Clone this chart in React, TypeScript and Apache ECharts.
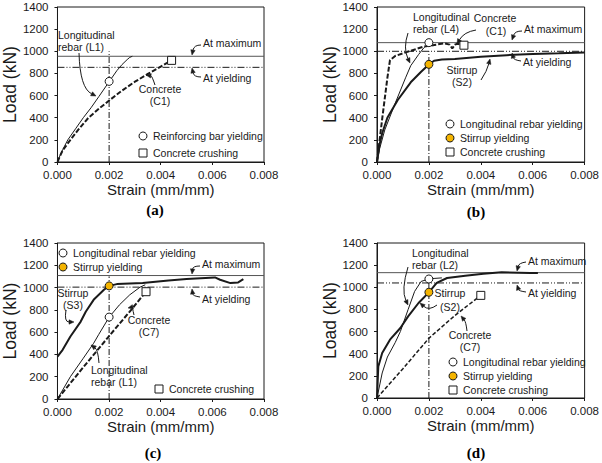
import React, { useEffect, useRef } from "react";
import * as echarts from "echarts";

type P = [number, number];

// ---------- shared axes ----------
const strainMax = 0.008;
const strainStep = 0.002;
const loadMax = 1400;
const loadStep = 200;

// ---------- panel (a) ----------
const aRebarL1: P[] = [[0,0],[0.0001,60],[0.0002,110],[0.0004,200],[0.0007,300],[0.001,400],[0.0013,490],[0.0016,590],[0.002,725],[0.0023,825],[0.0025,880],[0.0027,925],[0.0028,945],[0.0029,955]];
const aConcreteC1: P[] = [[0,0],[0.0001,55],[0.0002,105],[0.0005,200],[0.0008,290],[0.0012,400],[0.0016,480],[0.002,555],[0.0025,645],[0.003,725],[0.0035,795],[0.004,862],[0.0044,915]];
const aMaximum = 955;
const aYielding = 855;
const aVerticalTop = 1000;
const aRebarYield: P[] = [[0.002, 728]];
const aConcreteCrush: P[] = [[0.00442, 918]];

// ---------- panel (b) ----------
const bRebarL4: P[] = [[0,0],[0.0001,120],[0.0003,290],[0.0007,530],[0.0011,760],[0.0013,870],[0.0016,970],[0.0018,1030],[0.002,1075]];
const bStirrupS2: P[] = [[0,0],[0.0001,160],[0.0002,260],[0.0004,400],[0.0008,560],[0.0013,720],[0.0017,815],[0.002,880],[0.0022,915],[0.0025,925],[0.003,930],[0.004,950],[0.005,965],[0.006,975],[0.007,982],[0.008,990]];
const bConcreteC1: P[] = [[0,0],[0.0002,390],[0.0004,760],[0.0005,920],[0.0007,957],[0.0012,997],[0.0018,1042],[0.0026,1072],[0.0028,1060],[0.0029,1025],[0.003,1060],[0.0031,1068],[0.0033,1058]];
const bMaximum = 1078;
const bYielding = 1000;
const bVerticalTop = 1000;
const bRebarYield: P[] = [[0.002, 1078]];
const bStirrupYield: P[] = [[0.002, 882]];
const bConcreteCrush: P[] = [[0.00335, 1055]];

// ---------- panel (c) ----------
const cStirrupS3: P[] = [[0,380],[0.0002,441],[0.0005,561],[0.0009,695],[0.0011,785],[0.0014,890],[0.0016,935],[0.0018,980],[0.002,1015],[0.0023,1031],[0.0033,1040],[0.0043,1064],[0.005,1076],[0.0061,1091],[0.0063,1070],[0.0067,1040],[0.007,1046],[0.0072,1076]];
const cRebarL1: P[] = [[0,0],[0.0005,200],[0.001,366],[0.0014,500],[0.0016,580],[0.002,734],[0.0024,845],[0.0028,935],[0.0032,1004],[0.0034,1025]];
const cConcreteC7: P[] = [[0,0],[0.001,285],[0.002,565],[0.0028,785],[0.00343,963]];
const cMaximum = 1108;
const cYielding = 1004;
const cVerticalTop = 1100;
const cRebarYield: P[] = [[0.002, 735]];
const cStirrupYield: P[] = [[0.002, 1015]];
const cConcreteCrush: P[] = [[0.00343, 963]];

// ---------- panel (d) ----------
const dRebarL2: P[] = [[0,0],[0.0002,226],[0.0004,370],[0.0007,500],[0.0009,600],[0.0012,800],[0.00145,963],[0.0017,1053],[0.002,1075],[0.0022,1080],[0.0025,1085]];
const dStirrupS2: P[] = [[0,0],[0.00005,285],[0.0002,406],[0.0005,527],[0.0009,632],[0.0012,737],[0.0016,858],[0.002,954],[0.0023,1039],[0.0027,1084],[0.0034,1105],[0.0041,1123],[0.0048,1135],[0.0059,1129],[0.0062,1130]];
const dConcreteC7: P[] = [[0,0],[0.001,265],[0.002,540],[0.003,745],[0.004,927]];
const dMaximum = 1132;
const dYielding = 1039;
const dVerticalTop = 1100;
const dRebarYield: P[] = [[0.002, 1075]];
const dStirrupYield: P[] = [[0.002, 955]];
const dConcreteCrush: P[] = [[0.004, 927]];

// ---------- styling ----------
const SANS = '"Liberation Sans", Arial, Helvetica, sans-serif';
const SERIF = '"Liberation Serif", "Times New Roman", serif';
const INK = "#1a1a1a";
const ANN_FONT = `10.5px ${SANS}`;

const grids = [
  { left: 55, top: 7, width: 209, height: 155 },
  { left: 377, top: 7, width: 210, height: 155 },
  { left: 53, top: 243, width: 211, height: 156 },
  { left: 377, top: 243, width: 210, height: 155 },
];

function lineS(i: number, data: P[], lineStyle: any, z = 3) {
  return {
    type: "line",
    xAxisIndex: i,
    yAxisIndex: i,
    data,
    symbol: "none",
    showSymbol: false,
    silent: true,
    lineStyle: { color: INK, ...lineStyle },
    z,
  };
}

const rebarStyle = { width: 1 };
const stirrupStyle = { width: 2 };
const concreteStyle = { width: 2, type: [5, 2] };
const maxStyle = { width: 1, color: "#555" };
const yieldStyle = { width: 1, type: [7, 2, 1, 2, 1, 2] };
const vertStyle = { width: 1, type: [6, 2, 1, 2] };

function refLines(i: number, maxV: number, yieldV: number, vTop: number) {
  return [
    lineS(i, [[0, maxV], [strainMax, maxV]], maxStyle, 2),
    lineS(i, [[0, yieldV], [strainMax, yieldV]], yieldStyle, 2),
    lineS(i, [[0.002, 0], [0.002, vTop]], vertStyle, 2),
  ];
}

function marker(i: number, data: P[], kind: "open" | "filled" | "square") {
  return {
    type: "scatter",
    xAxisIndex: i,
    yAxisIndex: i,
    data,
    symbol: kind === "square" ? "rect" : "circle",
    symbolSize: 8,
    silent: true,
    itemStyle: {
      color: kind === "filled" ? "#F4B400" : "#ffffff",
      borderColor: INK,
      borderWidth: 1,
      opacity: 1,
    },
    z: 10,
  };
}

// ---------- graphic helpers (annotation layout) ----------
function txt(x: number, y: number, text: string, align = "left") {
  return {
    type: "text",
    x,
    y,
    silent: true,
    z: 20,
    style: {
      text,
      font: ANN_FONT,
      fill: INK,
      align,
      textAlign: align,
      verticalAlign: "middle",
      textVerticalAlign: "middle",
    },
  };
}

function arrow(x1: number, y1: number, cx: number, cy: number, x2: number, y2: number) {
  const dx = x2 - cx;
  const dy = y2 - cy;
  const len = Math.hypot(dx, dy) || 1;
  const ux = dx / len;
  const uy = dy / len;
  const bx = x2 - ux * 5;
  const by = y2 - uy * 5;
  const nx = -uy;
  const ny = ux;
  return [
    {
      type: "bezierCurve",
      silent: true,
      z: 20,
      shape: { x1, y1, x2: bx, y2: by, cpx1: cx, cpy1: cy },
      style: { stroke: INK, lineWidth: 1, fill: null },
    },
    {
      type: "polygon",
      silent: true,
      z: 20,
      shape: { points: [[x2, y2], [bx + nx * 2.2, by + ny * 2.2], [bx - nx * 2.2, by - ny * 2.2]] },
      style: { fill: INK, stroke: INK, lineWidth: 0.5 },
    },
  ];
}

function legendItem(x: number, y: number, kind: "open" | "filled" | "square", text: string) {
  const shape =
    kind === "square"
      ? { type: "rect", silent: true, z: 20, shape: { x: x - 4, y: y - 4, width: 8, height: 8 }, style: { fill: "#fff", stroke: INK, lineWidth: 1 } }
      : { type: "circle", silent: true, z: 20, shape: { cx: x, cy: y, r: 4 }, style: { fill: kind === "filled" ? "#F4B400" : "#fff", stroke: INK, lineWidth: 1 } };
  return [shape, txt(x + 10, y, text)];
}

function panelTag(x: number, y: number, text: string) {
  return {
    type: "text",
    x,
    y,
    silent: true,
    style: {
      text,
      font: `bold 15px ${SERIF}`,
      fill: "#000",
      align: "center",
      textAlign: "center",
      verticalAlign: "middle",
      textVerticalAlign: "middle",
    },
  };
}

function buildOption() {
  const xAxis = grids.map((_, i) => ({
    type: "value",
    gridIndex: i,
    min: 0,
    max: strainMax,
    interval: strainStep,
    name: "Strain (mm/mm)",
    nameLocation: "middle",
    nameGap: 19,
    nameTextStyle: { fontSize: 15, color: INK, fontFamily: SANS },
    axisLine: { show: true, lineStyle: { color: INK, width: 1 } },
    axisTick: { show: true, inside: false, length: 3, lineStyle: { color: INK } },
    axisLabel: { fontSize: 11.5, color: INK, fontFamily: SANS, margin: 7, formatter: (v: number) => v.toFixed(3) },
    splitLine: { show: false },
  }));
  const yAxis = grids.map((_, i) => ({
    type: "value",
    gridIndex: i,
    min: 0,
    max: loadMax,
    interval: loadStep,
    name: "Load (kN)",
    nameLocation: "middle",
    nameGap: 34,
    nameTextStyle: { fontSize: 17.5, color: INK, fontFamily: SANS },
    axisLine: { show: true, lineStyle: { color: INK, width: 1 } },
    axisTick: { show: true, inside: false, length: 3, lineStyle: { color: INK } },
    axisLabel: { fontSize: 11.5, color: INK, fontFamily: SANS, margin: 9, formatter: (v: number) => String(v) },
    splitLine: { show: false },
  }));

  const series: any[] = [
    // (a)
    ...refLines(0, aMaximum, aYielding, aVerticalTop),
    lineS(0, aRebarL1, rebarStyle),
    lineS(0, aConcreteC1, concreteStyle),
    marker(0, aRebarYield, "open"),
    marker(0, aConcreteCrush, "square"),
    // (b)
    ...refLines(1, bMaximum, bYielding, bVerticalTop),
    lineS(1, bConcreteC1, concreteStyle),
    lineS(1, bRebarL4, rebarStyle),
    lineS(1, bStirrupS2, stirrupStyle),
    marker(1, bRebarYield, "open"),
    marker(1, bStirrupYield, "filled"),
    marker(1, bConcreteCrush, "square"),
    // (c)
    ...refLines(2, cMaximum, cYielding, cVerticalTop),
    lineS(2, cConcreteC7, concreteStyle),
    lineS(2, cRebarL1, rebarStyle),
    lineS(2, cStirrupS3, stirrupStyle),
    marker(2, cRebarYield, "open"),
    marker(2, cStirrupYield, "filled"),
    marker(2, cConcreteCrush, "square"),
    // (d)
    ...refLines(3, dMaximum, dYielding, dVerticalTop),
    lineS(3, dConcreteC7, { width: 1.5, type: [4, 2] }),
    lineS(3, dRebarL2, rebarStyle),
    lineS(3, dStirrupS2, stirrupStyle),
    marker(3, dRebarYield, "open"),
    marker(3, dStirrupYield, "filled"),
    marker(3, dConcreteCrush, "square"),
  ];

  const graphic: any[] = [
    // (a)
    txt(58, 35, "Longitudinal"),
    txt(58, 47, "rebar (L1)"),
    ...arrow(79, 53, 80, 88, 96, 96),
    txt(203, 43, "At maximum"),
    ...arrow(201, 45, 194, 45, 192, 55),
    txt(203, 78, "At yielding"),
    ...arrow(201, 77, 194, 77, 192, 68),
    txt(160, 89, "Concrete", "center"),
    txt(160, 101, "(C1)", "center"),
    ...arrow(155, 85, 152, 76, 146, 75),
    ...legendItem(143, 136, "open", "Reinforcing bar yielding"),
    ...legendItem(143, 153, "square", "Concrete crushing"),
    panelTag(155, 210, "(a)"),
    // (b)
    txt(413, 17, "Longitudinal"),
    txt(413, 29, "rebar (L4)"),
    ...arrow(408, 33, 403, 48, 410, 63),
    txt(495, 18, "Concrete", "center"),
    txt(496, 31, "(C1)", "center"),
    ...arrow(476, 30, 464, 32, 457, 44),
    txt(524, 29, "At maximum"),
    ...arrow(522, 31, 515, 31, 512, 40),
    txt(523, 62, "At yielding"),
    ...arrow(521, 61, 514, 60, 512, 53),
    txt(462, 70, "Stirrup", "center"),
    txt(462, 82, "(S2)", "center"),
    ...arrow(481, 80, 487, 71, 490, 59),
    ...legendItem(450, 124, "open", "Longitudinal rebar yielding"),
    ...legendItem(450, 138, "filled", "Stirrup yielding"),
    ...legendItem(450, 152, "square", "Concrete crushing"),
    panelTag(476, 212, "(b)"),
    // (c)
    ...legendItem(63, 253, "open", "Longitudinal rebar yielding"),
    ...legendItem(63, 267, "filled", "Stirrup yielding"),
    txt(202, 264, "At maximum"),
    ...arrow(200, 266, 193, 266, 192, 274),
    txt(202, 299, "At yielding"),
    ...arrow(200, 297, 193, 296, 192, 289),
    txt(73, 293, "Stirrup", "center"),
    txt(73, 305, "(S3)", "center"),
    ...arrow(66, 310, 64, 322, 74, 322),
    txt(149, 320, "Concrete", "center"),
    txt(149, 332, "(C7)", "center"),
    ...arrow(134, 315, 132, 307, 128, 308),
    txt(91, 370, "Longitudinal"),
    txt(91, 382, "rebar (L1)"),
    ...arrow(99, 363, 98, 350, 91, 345),
    ...legendItem(159, 389, "square", "Concrete crushing"),
    panelTag(153, 453, "(c)"),
    // (d)
    txt(412, 253, "Longitudinal"),
    txt(412, 265, "rebar (L2)"),
    ...arrow(408, 267, 401, 290, 408, 305),
    txt(528, 261, "At maximum"),
    ...arrow(526, 262, 519, 263, 517, 271),
    txt(528, 293, "At yielding"),
    ...arrow(526, 292, 519, 291, 517, 285),
    txt(450, 293, "Stirrup", "center"),
    txt(450, 307, "(S2)", "center"),
    ...arrow(437, 305, 429, 311, 420, 303),
    txt(470, 335, "Concrete", "center"),
    txt(470, 347, "(C7)", "center"),
    ...arrow(467, 331, 466, 322, 461, 316),
    ...legendItem(453, 362, "open", "Longitudinal rebar yielding"),
    ...legendItem(453, 376, "filled", "Stirrup yielding"),
    ...legendItem(453, 390, "square", "Concrete crushing"),
    panelTag(476, 453, "(d)"),
  ];

  return {
    animation: false,
    backgroundColor: "#ffffff",
    textStyle: { fontFamily: SANS },
    grid: grids.map((g) => ({ ...g, show: true, borderColor: INK, borderWidth: 1, backgroundColor: "transparent", containLabel: false })),
    xAxis,
    yAxis,
    series,
    graphic,
  };
}

export default function App() {
  const ref = useRef<HTMLDivElement>(null);
  useEffect(() => {
    document.body.style.margin = "0";
    if (!ref.current) return;
    const chart = echarts.init(ref.current, undefined, { renderer: "svg" });
    chart.setOption(buildOption() as any);
    return () => chart.dispose();
  }, []);
  return <div ref={ref} style={{ width: 602, height: 463, background: "#fff" }} />;
}
